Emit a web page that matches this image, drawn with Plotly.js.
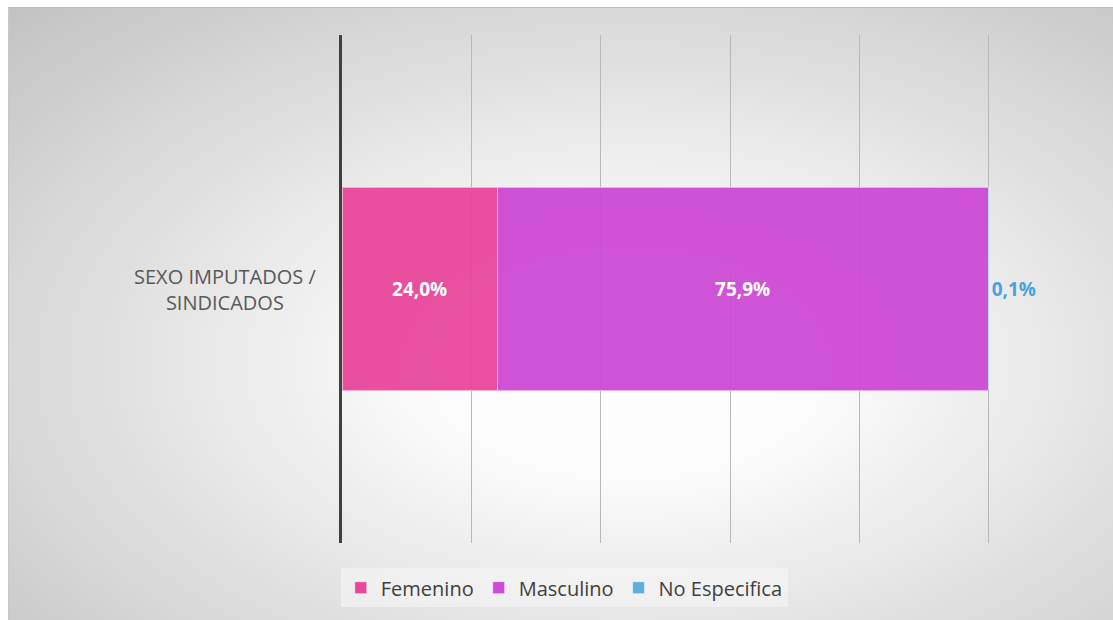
<!DOCTYPE html>
<html>
<head>
<meta charset="utf-8">
<script src="https://cdn.plot.ly/plotly-3.0.1.min.js"></script>
<style>
  html, body { margin: 0; padding: 0; background: #ffffff; }
  #wrap { position: relative; width: 1113px; height: 620px; overflow: hidden; }
  #bg { position: absolute; left: 8px; top: 7px; width: 1105px; height: 613px;
        border-top: 1px solid #bdbdbd; border-left: 1px solid #c8c8c8;
        background: radial-gradient(ellipse farthest-corner at 56% 58%, #ffffff 0%, #fcfcfc 22%, #c2c2c2 100%); }
  #chart { position: absolute; left: 0; top: 0; width: 1113px; height: 620px; }
</style>
</head>
<body>
<div id="wrap">
  <div id="bg"></div>
  <div id="chart"></div>
</div>
<script>
const categories = ["SEXO IMPUTADOS /<br>SINDICADOS"];
const seriesNames = ["Femenino", "Masculino", "No Especifica"];
const femenino = [24.0];
const masculino = [75.9];
const noEspecifica = [0.1];
const xTicks = [0, 20, 40, 60, 80, 100];

const colors = ["rgb(232,72,155)", "rgb(205,74,213)", "rgb(94,173,224)"];
const values = [femenino, masculino, noEspecifica];

const labelFont = "Open Sans, Noto Sans, sans-serif";

const traces = values.map((v, i) => ({
  type: "bar",
  orientation: "h",
  name: seriesNames[i],
  x: v,
  y: categories,
  width: 0.4,
  marker: { color: colors[i], opacity: 0.95, line: { color: "rgba(255,255,255,0.55)", width: 1 } },
  texttemplate: "%{x:.1f}%",
  textposition: i === 2 ? "outside" : "inside",
  insidetextanchor: "middle",
  textfont: { family: labelFont, size: 19, color: i === 2 ? "#4aa3dc" : "#ffffff", weight: "bold" },
  outsidetextfont: { family: labelFont, size: 19, color: "#4aa3dc", weight: "bold" },
  cliponaxis: false,
  hoverinfo: "x+name"
}));

const layout = {
  width: 1113,
  height: 620,
  margin: { l: 342, r: 123, t: 35, b: 77 },
  paper_bgcolor: "rgba(0,0,0,0)",
  plot_bgcolor: "rgba(0,0,0,0)",
  separators: ",.",
  barmode: "stack",
  showlegend: true,
  xaxis: {
    range: [0, 100.2],
    tickvals: xTicks,
    showticklabels: false,
    showgrid: true,
    gridcolor: "#b8b8b8",
    gridwidth: 1,
    zeroline: false,
    showline: false,
    fixedrange: true
  },
  yaxis: {
    range: [-0.5, 0.5],
    showticklabels: false,
    showgrid: false,
    zeroline: false,
    showline: true,
    linecolor: "#404040",
    linewidth: 3,
    fixedrange: true
  },
  annotations: [{
    xref: "paper", yref: "y",
    x: -0.181, y: categories[0],
    xanchor: "center", yanchor: "middle",
    text: categories[0],
    align: "center",
    showarrow: false,
    font: { family: labelFont, size: 20, color: "#595959" }
  }],
  legend: {
    orientation: "h",
    x: 0.343, xanchor: "center",
    y: -0.088, yanchor: "middle",
    bgcolor: "rgba(246,246,246,0.6)",
    font: { family: labelFont, size: 20, color: "#404040" },
    traceorder: "normal",
    itemclick: false,
    itemdoubleclick: false
  }
};

Plotly.newPlot("chart", traces, layout, { displayModeBar: false, staticPlot: true });
</script>
</body>
</html>
